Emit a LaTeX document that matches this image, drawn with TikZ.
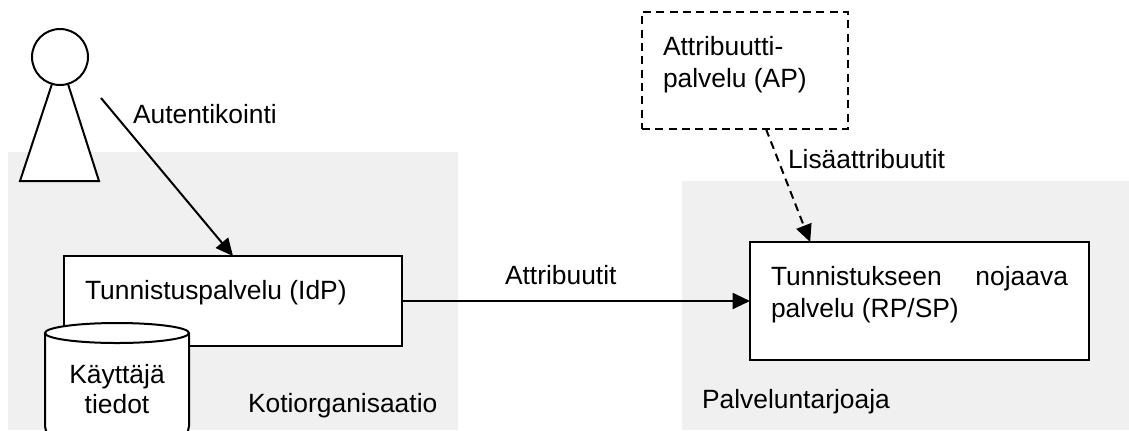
\documentclass[tikz,border=0pt]{standalone}
\usepackage{fontspec}
\setmainfont{Liberation Sans}
\usetikzlibrary{arrows.meta,shapes.geometric}
\definecolor{areagray}{HTML}{F0F0F0}
\tikzset{
  box/.style={draw=black, line width=1.5pt, fill=white, inner sep=0pt, outer sep=0pt},
  area/.style={fill=areagray, draw=none},
  txt/.style={inner sep=0pt, outer sep=0pt, anchor=base west, font=\fontsize{19.8}{24}\selectfont},
  link/.style={draw=black, line width=1.5pt, -{Triangle[length=13pt,width=12pt]}}
}
\begin{document}
\begin{tikzpicture}[x=0.75pt, y=-0.75pt]
      \useasboundingbox (0, 0) rectangle (1129, 430);
      \fill [area] (8, 152) rectangle (458, 430);
      \fill [area] (682, 181) rectangle (1129, 430);
      \node [box, minimum width=253.5pt, minimum height=67.5pt] (idp) at (233, 301) {};
      \node [box, minimum width=254.25pt, minimum height=88.5pt] (rp) at (919.5, 301) {};
      \node [box, dash pattern=on 6pt off 4pt, minimum width=154.5pt, minimum height=87.75pt] (ap) at (745, 70.5) {};
      \draw [box, rounded corners=9pt] (45, 333) -- (45, 438) -- (189, 438) -- (189, 333);
      \node [box, ellipse, minimum width=108pt, minimum height=15pt] (dbtop) at (117, 333) {};
      \draw [box] (52, 84) -- (20, 181) -- (99, 181) -- (68, 84);
      \node [box, circle, minimum size=42pt] (head) at (60, 57) {};
      \coordinate (user) at (101, 98);
      \draw [link] (user) -- (idp.north);
      \draw [link] (idp) -- (rp);
      \draw [link, dash pattern=on 6pt off 4pt] ([xshift=15.75pt]ap.south) -- ([xshift=-82pt]rp.north);
      \node [txt] (auth) at (133, 123) {Autentikointi};
      \node [txt] (idptxt) at (85, 299) {Tunnistuspalvelu (IdP)};
      \node [txt, anchor=base] (dbtxt1) at (117, 383) {Käyttäjä};
      \node [txt, anchor=base] (dbtxt2) at (117, 413) {tiedot};
      \node [txt] (home) at (248, 412) {Kotiorganisaatio};
      \node [txt] (attr) at (505, 284) {Attribuutit};
      \node [txt] (aptxt1) at (663, 55) {Attribuutti-};
      \node [txt] (aptxt2) at (663, 87) {palvelu (AP)};
      \node [txt] (more) at (788, 168) {Lisäattribuutit};
      \node [txt, text width=222.75pt] (rptxt1) at (771, 285) {Tunnistukseen\hfill nojaava};
      \node [txt] (rptxt2) at (771, 317) {palvelu (RP/SP)};
      \node [txt] (prov) at (702, 408) {Palveluntarjoaja};
    \end{tikzpicture}
\end{document}
